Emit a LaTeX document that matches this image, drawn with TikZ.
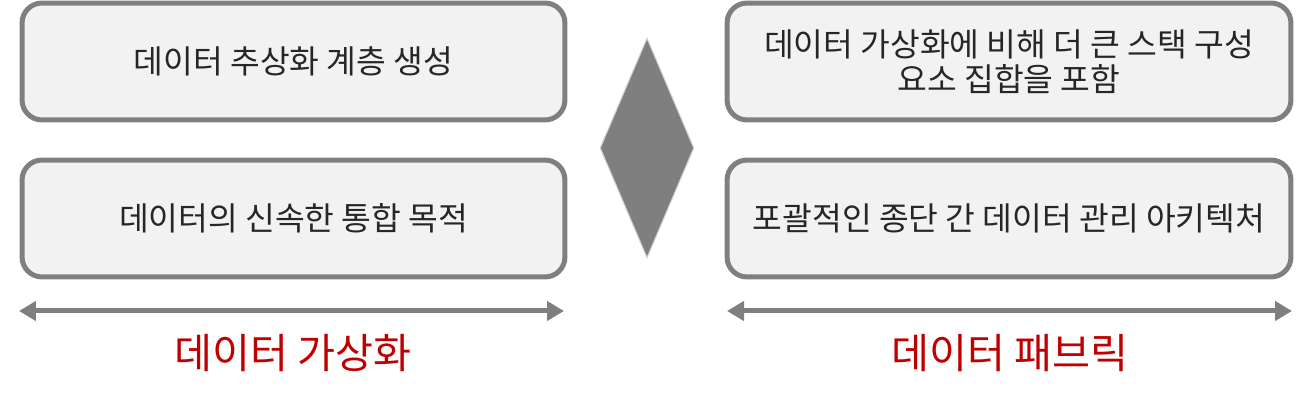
\documentclass[tikz,border=0pt]{standalone}
\usepackage{fontspec}
\setmainfont{Noto Sans CJK KR}
\usetikzlibrary{arrows.meta,shapes.geometric}
\definecolor{boxfill}{HTML}{F2F2F2}
\definecolor{boxline}{HTML}{7F7F7F}
\definecolor{txt}{HTML}{262626}
\definecolor{redlab}{HTML}{C00000}
\definecolor{diaedge}{HTML}{D4D4D4}
\tikzset{
  infobox/.style={draw=boxline, fill=boxfill, line width=0.1cm, rounded corners=0.4cm,
    minimum height=2.34cm, inner sep=0pt, text=txt, align=center,
    font=\fontsize{18.4pt}{19.8pt}\selectfont},
  leftbox/.style={infobox, minimum width=10.86cm},
  rightbox/.style={infobox, minimum width=11.28cm},
  span/.style={draw=boxline, line width=0.1cm, {Triangle[length=0.34cm,width=0.38cm]}-{Triangle[length=0.34cm,width=0.38cm]}},
  biglabel/.style={text=redlab, font=\fontsize{23.5pt}{28pt}\selectfont, inner sep=0pt}
}
\begin{document}
\begin{tikzpicture}[x=0.02cm,y=-0.02cm]
\useasboundingbox (0,0) rectangle (1310,401);
\node[leftbox] (l1) at (293.5,61.5) {데이터 추상화 계층 생성};
\node[leftbox] (l2) at (293.5,218.5) {데이터의 신속한 통합 목적};
\node[rightbox] (r1) at (1009,61.5) {데이터 가상화에 비해 더 큰 스택 구성\\요소 집합을 포함};
\node[rightbox] (r2) at (1009,218.5) {포괄적인 종단 간 데이터 관리 아키텍처};
\node[diamond, draw=diaedge, line width=0.6pt, fill=boxline, inner sep=0pt,
      minimum width=1.88cm, minimum height=4.4cm] (dia) at (647,148) {};
\coordinate (la) at (19,311);
\coordinate (lb) at (564,311);
\coordinate (ra) at (727,311);
\coordinate (rb) at (1292,311);
\draw[span] (la) -- (lb);
\draw[span] (ra) -- (rb);
\node[biglabel] (t1) at (293,353) {데이터 가상화};
\node[biglabel] (t2) at (1010,353) {데이터 패브릭};
\end{tikzpicture}
\end{document}
